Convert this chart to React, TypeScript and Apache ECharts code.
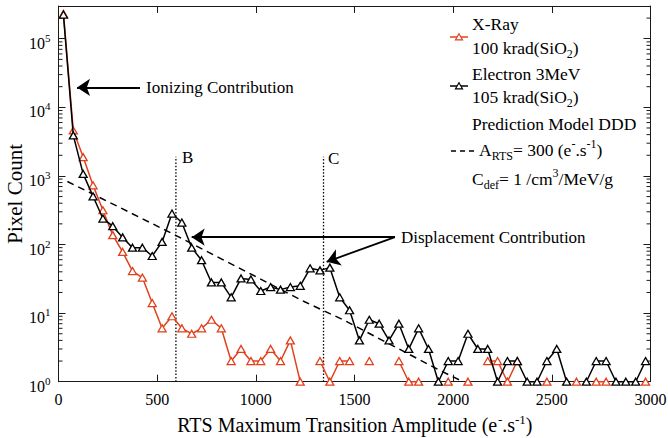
import React, { useEffect, useRef } from 'react';
import * as echarts from 'echarts';

// Bin centres of the RTS amplitude histogram (e-.s-1)
const binCenters = [
  25, 75, 125, 175, 225, 275, 325, 375, 425, 475,
  525, 575, 625, 675, 725, 775, 825, 875, 925, 975,
  1025, 1075, 1125, 1175, 1225, 1275, 1325, 1375, 1425, 1475,
  1525, 1575, 1625, 1675, 1725, 1775, 1825, 1875, 1925, 1975,
  2025, 2075, 2125, 2175, 2225, 2275, 2325, 2375, 2425, 2475,
  2525, 2575, 2625, 2675, 2725, 2775, 2825, 2875, 2925, 2975,
];

// X-Ray 100 krad(SiO2) pixel counts (null = empty bin)
const xRayCounts: (number | null)[] = [
  230000, 4600, 1880, 730, 316, 137, 78, 41, 33, 14,
  6, 9, 6, 5, 6, 8, 6, 2, 3, 2,
  2, 3, 2, 4, 1, null, 2, 1, 2, 2,
  null, 2, null, null, 2, 1, 1, null, null, 1,
  null, 1, null, 2, 2, 1, 2, null, null, 1,
  null, null, 1, null, 1, 1, null, null, null, 1,
];

// Electron 3MeV 105 krad(SiO2) pixel counts
const electronCounts: (number | null)[] = [
  225000, 3900, 1070, 505, 239, 185, 127, 90, 90, 68,
  109, 283, 209, 90, 59, 28, 28, 17, 32, 31,
  21, 24, 22, 24, 25, 45, 42, 46, 17, 11,
  4, 8, 7, 4, 7, 3, 6, 3, 1, 2,
  2, 5, 3, 3, 1, 2, 2, 1, 1, 2,
  3, 1, null, 1, 2, 2, 1, 1, 1, 2,
];

// Prediction model DDD
const modelX = [45, 575, 1250, 1450, 1925, 2050];
const modelY = [830, 145, 14.5, 7.8, 1.5, 1.0];

// Vertical markers B and C
const markerBx = 595;
const markerCx = 1343;
const markerTop = 1900;

// Annotation arrows [tailX, tailY, headX, headY] in data units
const ionizingArrow = [413, 19500, 94, 19500];
const displacementArrow1 = [1705, 128, 675, 128];
const displacementArrow2 = [1705, 128, 1359, 56];

// Minor log ticks
const minorTickValues = [
  2, 3, 4, 5, 6, 7, 8, 9,
  20, 30, 40, 50, 60, 70, 80, 90,
  200, 300, 400, 500, 600, 700, 800, 900,
  2000, 3000, 4000, 5000, 6000, 7000, 8000, 9000,
  20000, 30000, 40000, 50000, 60000, 70000, 80000, 90000,
  200000,
];

const FONT = "'Liberation Serif', 'Times New Roman', serif";
const RED = '#e2401c';
const AXIS = '#1a1a1a';

export default function App() {
  const ref = useRef<HTMLDivElement>(null);

  useEffect(() => {
    const chart = echarts.init(ref.current as HTMLDivElement, null, { renderer: 'svg' });

    const toPairs = (ys: (number | null)[]) =>
      binCenters.map((x, i) => [x, ys[i] == null ? '-' : ys[i]]);

    const axisCommon = {
      axisLine: { show: true, onZero: false, lineStyle: { color: AXIS, width: 1 } },
      axisTick: { show: true, inside: true, length: 7, lineStyle: { color: AXIS, width: 1 } },
      splitLine: { show: false },
    };

    const subSup = {
      sub: { fontFamily: FONT, fontSize: 12, color: '#000', verticalAlign: 'bottom', lineHeight: 12 },
      sup: { fontFamily: FONT, fontSize: 12, color: '#000', verticalAlign: 'top', lineHeight: 12 },
    };

    const legendText = (x: number, y: number, text: string) => ({
      type: 'text',
      x,
      y,
      silent: true,
      style: {
        text,
        fontFamily: FONT,
        fontSize: 17.5,
        fill: '#000',
        verticalAlign: 'middle',
        lineHeight: 24,
        rich: subSup,
      },
    });

    const tri = (cx: number, cy: number, color: string) => ({
      type: 'polygon',
      silent: true,
      shape: { points: [[cx, cy - 3.2], [cx + 3.5, cy + 2.8], [cx - 3.5, cy + 2.8]] },
      style: { fill: '#fff', stroke: color, lineWidth: 1.2 },
    });

    const option: any = {
      animation: false,
      grid: {
        left: 58.5,
        right: 17.5,
        top: 6,
        bottom: 56.3,
        containLabel: false,
        outerBoundsMode: 'none',
      },
      xAxis: [
        {
          type: 'value',
          min: 0,
          max: 3000,
          interval: 500,
          position: 'bottom',
          ...axisCommon,
          axisLabel: {
            fontFamily: FONT,
            fontSize: 16,
            color: '#000',
            margin: 10,
            formatter: (v: number) => String(v),
          },
          name: 'RTS Maximum Transition Amplitude (e{sup|-}.s{sup|-1})',
          nameLocation: 'middle',
          nameGap: 31,
          nameMoveOverlap: false,
          nameTextStyle: {
            fontFamily: FONT,
            fontSize: 20,
            color: '#000',
            lineHeight: 25,
            rich: { sup: { fontFamily: FONT, fontSize: 13, color: '#000', verticalAlign: 'top', lineHeight: 13 } },
          },
        },
        {
          type: 'value',
          min: 0,
          max: 3000,
          interval: 500,
          position: 'top',
          ...axisCommon,
          axisLabel: { show: false },
        },
      ],
      yAxis: [
        {
          type: 'log',
          logBase: 10,
          min: 1,
          max: 300000,
          position: 'left',
          ...axisCommon,
          axisLabel: {
            margin: 8,
            showMaxLabel: false,
            formatter: (v: number) => {
              const l = Math.log10(v);
              const n = Math.round(l);
              if (Math.abs(l - n) > 1e-6) return '';
              return `{b|10}{s|${n}}`;
            },
            rich: {
              b: { fontFamily: FONT, fontSize: 16, color: '#000', lineHeight: 17, padding: [9, 0, 0, 0] },
              s: { fontFamily: FONT, fontSize: 11, color: '#000', verticalAlign: 'top', lineHeight: 12, padding: [2, 0, 0, 0] },
            },
          },
          name: 'Pixel Count',
          nameLocation: 'middle',
          nameGap: 33,
          nameMoveOverlap: false,
          nameTextStyle: { fontFamily: FONT, fontSize: 21, color: '#000' },
        },
        {
          type: 'log',
          logBase: 10,
          min: 1,
          max: 300000,
          position: 'right',
          ...axisCommon,
          axisLabel: { show: false },
        },
      ],
      series: [
        {
          name: 'X-Ray',
          type: 'line',
          data: toPairs(xRayCounts),
          symbol: 'triangle',
          symbolSize: [8, 7],
          showSymbol: true,
          connectNulls: false,
          clip: false,
          z: 3,
          lineStyle: { color: RED, width: 1.5 },
          itemStyle: { color: '#fff', borderColor: RED, borderWidth: 1.3 },
          emphasis: { disabled: true },
        },
        {
          name: 'Electron',
          type: 'line',
          data: toPairs(electronCounts),
          symbol: 'triangle',
          symbolSize: [8, 7],
          showSymbol: true,
          connectNulls: false,
          clip: false,
          z: 4,
          lineStyle: { color: '#000', width: 1.5 },
          itemStyle: { color: '#fff', borderColor: '#000', borderWidth: 1.3 },
          emphasis: { disabled: true },
        },
        {
          name: 'Model',
          type: 'line',
          data: modelX.map((x, i) => [x, modelY[i]]),
          symbol: 'none',
          z: 2,
          lineStyle: { color: '#000', width: 1.5, type: [7, 5] },
          emphasis: { disabled: true },
        },
        {
          name: 'B',
          type: 'line',
          data: [[markerBx, 1], [markerBx, markerTop]],
          symbol: 'none',
          z: 1,
          lineStyle: { color: '#000', width: 1.3, type: [1.5, 1.8] },
          emphasis: { disabled: true },
          markLine: {
            silent: true,
            symbol: ['none', 'arrow'],
            symbolSize: 13,
            label: { show: false },
            lineStyle: { color: '#000', width: 1.8, type: 'solid' },
            emphasis: { disabled: true },
            data: [ionizingArrow, displacementArrow1, displacementArrow2].map((a) => [
              { coord: [a[0], a[1]] },
              { coord: [a[2], a[3]] },
            ]),
          },
        },
        {
          name: 'C',
          type: 'line',
          data: [[markerCx, 1], [markerCx, markerTop]],
          symbol: 'none',
          z: 1,
          lineStyle: { color: '#000', width: 1.3, type: [1.5, 1.8] },
          emphasis: { disabled: true },
        },
        {
          name: 'minorTicks',
          type: 'custom',
          silent: true,
          clip: false,
          data: minorTickValues.map((v) => [0, v]),
          renderItem: (params: any, api: any) => {
            const v = api.value(1);
            const l = api.coord([0, v]);
            const r = api.coord([3000, v]);
            return {
              type: 'group',
              children: [
                { type: 'line', shape: { x1: l[0], y1: l[1], x2: l[0] + 4, y2: l[1] }, style: { stroke: AXIS, lineWidth: 1 } },
                { type: 'line', shape: { x1: r[0] - 4, y1: r[1], x2: r[0], y2: r[1] }, style: { stroke: AXIS, lineWidth: 1 } },
              ],
            };
          },
        },
      ],
      graphic: [
        { type: 'text', x: 146, y: 87, silent: true, style: { text: 'Ionizing Contribution', fontFamily: FONT, fontSize: 17, fill: '#000', verticalAlign: 'middle' } },
        { type: 'text', x: 401, y: 237, silent: true, style: { text: 'Displacement Contribution', fontFamily: FONT, fontSize: 17, fill: '#000', verticalAlign: 'middle' } },
        { type: 'text', x: 182, y: 157, silent: true, style: { text: 'B', fontFamily: FONT, fontSize: 17, fill: '#000', verticalAlign: 'middle' } },
        { type: 'text', x: 328, y: 158, silent: true, style: { text: 'C', fontFamily: FONT, fontSize: 17, fill: '#000', verticalAlign: 'middle' } },
        // legend
        { type: 'line', silent: true, shape: { x1: 450, y1: 37, x2: 468, y2: 37 }, style: { stroke: RED, lineWidth: 1.5 } },
        tri(459, 37, RED),
        legendText(472, 24, 'X-Ray'),
        legendText(472, 48, '100 krad(SiO{sub|2})'),
        { type: 'line', silent: true, shape: { x1: 450, y1: 86, x2: 468, y2: 86 }, style: { stroke: '#000', lineWidth: 1.5 } },
        tri(459, 86, '#000'),
        legendText(472, 74, 'Electron 3MeV'),
        legendText(472, 97, '105 krad(SiO{sub|2})'),
        legendText(472, 124, 'Prediction Model DDD'),
        { type: 'line', silent: true, shape: { x1: 451, y1: 151, x2: 477, y2: 151 }, style: { stroke: '#000', lineWidth: 1.5, lineDash: [5, 4] } },
        legendText(479, 150, 'A{sub|RTS}= 300 (e{sup|-}.s{sup|-1})'),
        legendText(472, 179, 'C{sub|def}= 1 /cm{sup|3}/MeV/g'),
      ],
    };

    chart.setOption(option);
    return () => chart.dispose();
  }, []);

  return (
    <div
      ref={ref}
      style={{ position: 'absolute', left: 0, top: 0, width: 668, height: 438, background: '#fff' }}
    />
  );
}
